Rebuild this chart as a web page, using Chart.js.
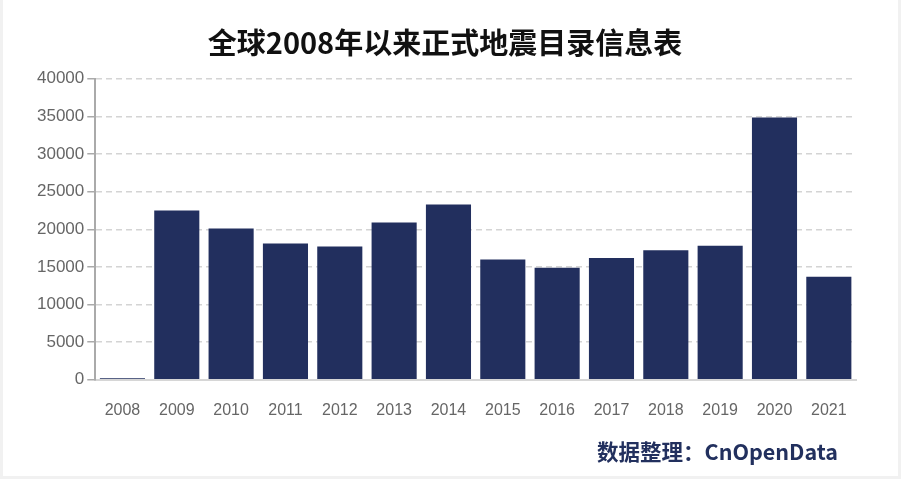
<!DOCTYPE html>
<html>
<head>
<meta charset="utf-8">
<script src="https://cdn.jsdelivr.net/npm/chart.js@4/dist/chart.umd.min.js"></script>
<style>
  html, body { margin: 0; padding: 0; background: #fff; }
  #wrap { width: 901px; height: 479px; box-sizing: border-box; border: 3px solid #f1f1f1; border-top: 0; }
  canvas { display: block; }
</style>
</head>
<body>
<div id="wrap"><canvas id="quakeChart" width="895" height="476"></canvas></div>
<script>
const years = ['2008', '2009', '2010', '2011', '2012', '2013', '2014', '2015', '2016', '2017', '2018', '2019', '2020', '2021'];
const counts = [200, 22500, 20100, 18100, 17700, 20900, 23300, 16000, 14900, 16200, 17200, 17800, 34850, 13700];
const yTicks = [0, 5000, 10000, 15000, 20000, 25000, 30000, 35000, 40000];

const barColor = '#222f5e';
const sourceText = '数据整理：CnOpenData';

// footer credit, drawn at the bottom right under the axis labels
const footerCredit = {
  id: 'footerCredit',
  afterDraw(chart) {
    const ctx = chart.ctx;
    ctx.save();
    ctx.font = 'bold 21.5px "Noto Sans CJK SC", sans-serif';
    ctx.fillStyle = '#22305e';
    ctx.textAlign = 'right';
    ctx.textBaseline = 'middle';
    ctx.fillText(sourceText, chart.chartArea.right - 18, 452);
    ctx.restore();
  }
};

new Chart(document.getElementById('quakeChart'), {
  type: 'bar',
  data: {
    labels: years,
    datasets: [{
      label: '地震目录数',
      data: counts,
      backgroundColor: barColor,
      barPercentage: 0.83,
      categoryPercentage: 1.0
    }]
  },
  options: {
    responsive: false,
    animation: false,
    layout: { padding: { left: 31, right: 42, top: 0, bottom: 43 } },
    plugins: {
      legend: { display: false },
      tooltip: { enabled: false },
      title: {
        display: true,
        text: '全球2008年以来正式地震目录信息表',
        color: '#111',
        font: { family: '"Noto Sans CJK SC", sans-serif', size: 29, weight: 'bold' },
        padding: { top: 26, bottom: 18 }
      }
    },
    scales: {
      x: {
        grid: { display: false },
        border: { display: true, color: '#d6d6d6', width: 2 },
        ticks: { color: '#666', font: { family: 'Liberation Sans, Arial, sans-serif', size: 16 }, padding: 13 }
      },
      y: {
        min: 0,
        max: 40000,
        afterBuildTicks: axis => { axis.ticks = yTicks.map(v => ({ value: v })); },
        grid: { color: '#d4d4d4', lineWidth: 1.5, tickLength: 8, tickColor: '#aaa' },
        border: { display: true, color: '#aaa', width: 2, dash: [6, 4] },
        ticks: {
          color: '#666',
          font: { family: 'Liberation Sans, Arial, sans-serif', size: 17 },
          padding: 3,
          callback: v => String(v)
        }
      }
    }
  },
  plugins: [footerCredit]
});
</script>
</body>
</html>
